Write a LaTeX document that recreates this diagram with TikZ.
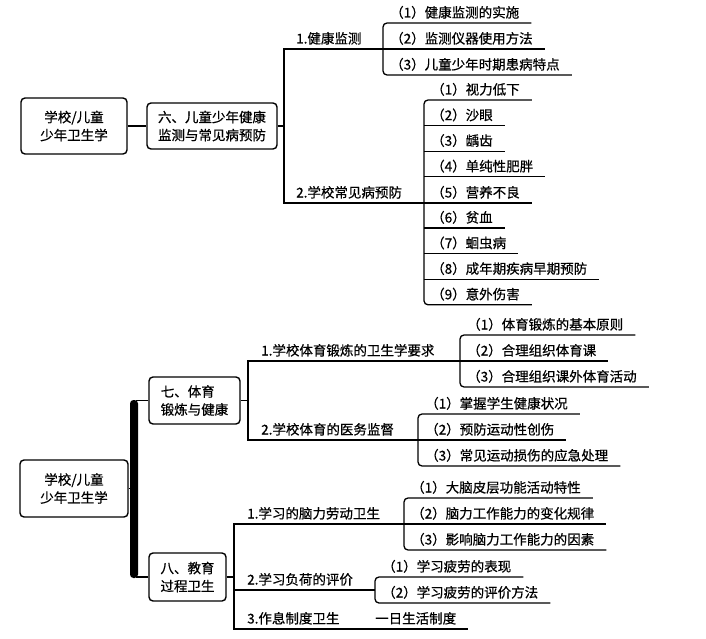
\documentclass[tikz,border=0pt]{standalone}
\usepackage{fontspec}
\setmainfont{Noto Sans CJK SC}[FakeBold=0.6]
\newcommand\fs{\fontsize{13.5}{18}\selectfont}
\tikzset{
  box/.style={draw, line width=1.4pt, rounded corners=4pt, align=center, inner sep=0pt, font=\fs},
  lbl/.style={anchor=base west, inner sep=0pt, font=\fs},
  ln/.style={line width=1.3pt},
  brk/.style={line width=1.3pt, rounded corners=4pt},
}
\newcommand\itm[4]{%
  \coordinate (#1-l) at (#2,#3);
  \node[lbl] (#1) at (#2+7,#3-5.5) {#4\hspace*{12pt}};
  \coordinate (#1-r) at (#1.east |- #1-l);}
\begin{document}
\begin{tikzpicture}[x=1pt,y=-1pt]
\useasboundingbox (0,0) rectangle (706,639);
% ---------- top part ----------
\node[box, minimum width=106pt, minimum height=56pt] (r1) at (74,126) {学校/儿童\\少年卫生学};
\node[box, minimum width=130pt, minimum height=46pt] (b6) at (212,126) {六、儿童少年健康\\监测与常见病预防};
\draw[ln] (r1.east) -- (b6.west);
\coordinate (j6) at (284,126);
\draw[ln] (b6.east) -- (j6);
\node[lbl] (h1) at (296,49-5.5) {1.健康监测};
\node[lbl] (h2) at (296,203-5.5) {2.学校常见病预防};
\itm{a1}{383}{23}{（1）健康监测的实施}
\itm{a2}{383}{49}{（2）监测仪器使用方法}
\itm{a3}{383}{75}{（3）儿童少年时期患病特点}
\draw[brk] (a1-r) -- (a1-l) -- (a3-l) -- (a3-r);
\draw[ln] (a2-l) -- (a2-r);
\itm{c1}{424}{100}{（1）视力低下}
\itm{c2}{424}{125.6}{（2）沙眼}
\itm{c3}{424}{151.2}{（3）龋齿}
\itm{c4}{424}{176.8}{（4）单纯性肥胖}
\itm{c5}{424}{203}{（5）营养不良}
\itm{c6}{424}{228}{（6）贫血}
\itm{c7}{424}{253.6}{（7）蛔虫病}
\itm{c8}{424}{279.2}{（8）成年期疾病早期预防}
\itm{c9}{424}{304.8}{（9）意外伤害}
\draw[brk] (c1-r) -- (c1-l) -- (c9-l) -- (c9-r);
\foreach \n in {c2,c3,c4,c5,c6,c7,c8}{\draw[ln] (\n-l) -- (\n-r);}
\draw[ln] (a2-l) -- (284,49) -- (284,203) -- (c5-l);
% ---------- bottom part ----------
\node[box, minimum width=108pt, minimum height=57pt] (r2) at (74,488.5) {学校/儿童\\少年卫生学};
\node[box, align=left, minimum width=91pt, minimum height=47pt] (b7) at (194.5,400.5) {七、体育\\锻炼与健康};
\node[box, align=left, minimum width=77pt, minimum height=48pt] (b8) at (187.5,577) {八、教育\\过程卫生};
\fill[rounded corners=3.5pt] (130,400) rectangle (138,578);
\draw[ln] (r2.east) -- (130,488.5);
\draw[ln] (b7.west) -- (136,400.5);
\draw[ln] (b8.west) -- (136,577);
% 七
\draw[ln] (b7.east) -- (248,400.5);
\node[lbl] (d1) at (261,361-5.5) {1.学校体育锻炼的卫生学要求};
\node[lbl] (d2) at (261,440-5.5) {2.学校体育的医务监督};
\itm{f1}{460}{335}{（1）体育锻炼的基本原则}
\itm{f2}{460}{361}{（2）合理组织体育课}
\itm{f3}{460}{387}{（3）合理组织课外体育活动}
\draw[brk] (f1-r) -- (f1-l) -- (f3-l) -- (f3-r);
\draw[ln] (f2-l) -- (f2-r);
\itm{g1}{418}{414}{（1）掌握学生健康状况}
\itm{g2}{418}{440}{（2）预防运动性创伤}
\itm{g3}{418}{466}{（3）常见运动损伤的应急处理}
\draw[brk] (g1-r) -- (g1-l) -- (g3-l) -- (g3-r);
\draw[ln] (g2-l) -- (g2-r);
\draw[ln] (f2-l) -- (248,361) -- (248,440) -- (g2-l);
% 八
\draw[ln] (b8.east) -- (234,577);
\node[lbl] (e1) at (247,524-5.5) {1.学习的脑力劳动卫生};
\node[lbl] (e2) at (247,590-5.5) {2.学习负荷的评价};
\node[lbl] (e3) at (247,629-5.5) {3.作息制度卫生};
\itm{i1}{404}{498}{（1）大脑皮层功能活动特性}
\itm{i2}{404}{524}{（2）脑力工作能力的变化规律}
\itm{i3}{404}{550}{（3）影响脑力工作能力的因素}
\draw[brk] (i1-r) -- (i1-l) -- (i3-l) -- (i3-r);
\draw[ln] (i2-l) -- (i2-r);
\itm{j1}{375}{577}{（1）学习疲劳的表现}
\itm{j2}{375}{603}{（2）学习疲劳的评价方法}
\draw[brk] (j1-r) -- (j1-l) -- (j2-l) -- (j2-r);
\coordinate (jm) at (375,590);
\node[lbl] (k) at (375,629-5.5) {一日生活制度\hspace*{12pt}};
\coordinate (kl) at (234,629);
\coordinate (kend) at (k.east |- kl);
\draw[ln] (i2-l) -- (234,524) -- (kl) -- (kend);
\draw[ln] (234,590) -- (jm);
\end{tikzpicture}
\end{document}
